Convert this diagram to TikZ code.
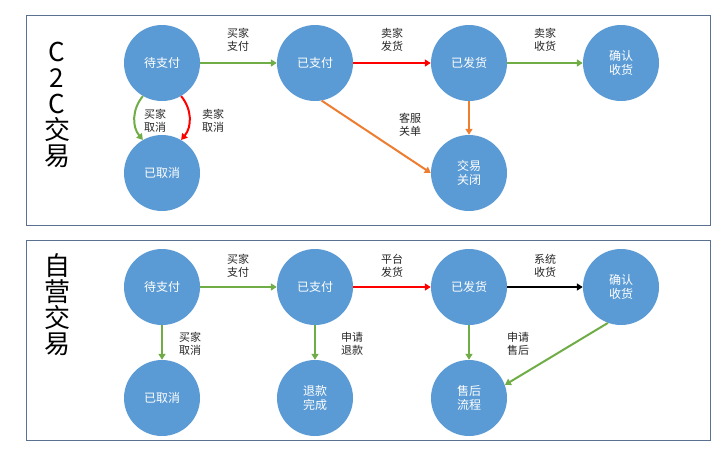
\documentclass[tikz,border=0pt]{standalone}
\usepackage{fontspec}
\newfontfamily\cjk{Noto Sans CJK SC}
\usetikzlibrary{arrows.meta}
\definecolor{cblue}{HTML}{5B9BD5}
\definecolor{cgreen}{HTML}{70AD47}
\definecolor{corange}{HTML}{ED7D31}
\definecolor{cborder}{HTML}{5A7290}
\tikzset{
 st/.style={circle,fill=cblue,minimum size=76pt,inner sep=0pt,text=white,font=\cjk\fontsize{12}{14}\selectfont,align=center},
 lb/.style={font=\cjk\fontsize{11}{13}\selectfont,align=center,text=black!85,inner sep=1pt},
 ar/.style={line width=2pt,-{Triangle[length=6pt,width=7pt]}},
 panel/.style={draw=cborder,line width=1pt,fill=white},
 ttl/.style={font=\cjk\fontsize{26}{30}\selectfont,align=center,text=black}
}
\begin{document}
\begin{tikzpicture}[x=1pt,y=-1pt]
\useasboundingbox (0,0) rectangle (725,464);
\node[panel,minimum width=684pt,minimum height=210pt,anchor=north west] (p1) at (26,15) {};
\node[panel,minimum width=684pt,minimum height=200pt,anchor=north west] (p2) at (26,240) {};
\node[ttl] (t1) at (57,105) {C\\[-4pt]2\\[-4pt]C\\[-4pt]交\\[-4pt]易};
\node[ttl] (t2) at (57,305) {自\\[-4pt]营\\[-4pt]交\\[-4pt]易};
% top
\node[st] (a1) at (162,63) {待支付};
\node[st] (a2) at (315,63) {已支付};
\node[st] (a3) at (469,63) {已发货};
\node[st] (a4) at (621,63) {确认\\收货};
\node[st] (a5) at (162,173) {已取消};
\node[st] (a6) at (469,173) {交易\\关闭};
\draw[ar,cgreen] (a1) -- (a2);
\draw[ar,red] (a2) -- (a3);
\draw[ar,cgreen] (a3) -- (a4);
\draw[ar,cgreen] (a1.240) to[bend right=40] (a5.120);
\draw[ar,red] (a1.300) to[bend left=40] (a5.60);
\draw[ar,corange] (a2.280) -- (a6.180);
\draw[ar,corange] (a3) -- (a6);
\node[lb] (l1) at (238,40) {买家\\支付};
\node[lb] (l2) at (392,40) {卖家\\发货};
\node[lb] (l3) at (545,40) {卖家\\收货};
\node[lb] (l4) at (155,121) {买家\\取消};
\node[lb] (l5) at (213,121) {卖家\\取消};
\node[lb] (l6) at (410,125) {客服\\关单};
% bottom
\node[st] (b1) at (162,287) {待支付};
\node[st] (b2) at (315,287) {已支付};
\node[st] (b3) at (469,287) {已发货};
\node[st] (b4) at (621,287) {确认\\收货};
\node[st] (b5) at (162,398) {已取消};
\node[st] (b6) at (315,398) {退款\\完成};
\node[st] (b7) at (469,398) {售后\\流程};
\draw[ar,cgreen] (b1) -- (b2);
\draw[ar,red] (b2) -- (b3);
\draw[ar,black] (b3) -- (b4);
\draw[ar,cgreen] (b1) -- (b5);
\draw[ar,cgreen] (b2) -- (b6);
\draw[ar,cgreen] (b3) -- (b7);
\draw[ar,cgreen] (b4.250) -- (b7.20);
\node[lb] (m1) at (238,266) {买家\\支付};
\node[lb] (m2) at (392,266) {平台\\发货};
\node[lb] (m3) at (545,266) {系统\\收货};
\node[lb] (m4) at (190,344) {买家\\取消};
\node[lb] (m5) at (352,344) {申请\\退款};
\node[lb] (m6) at (518,344) {申请\\售后};
\end{tikzpicture}
\end{document}
